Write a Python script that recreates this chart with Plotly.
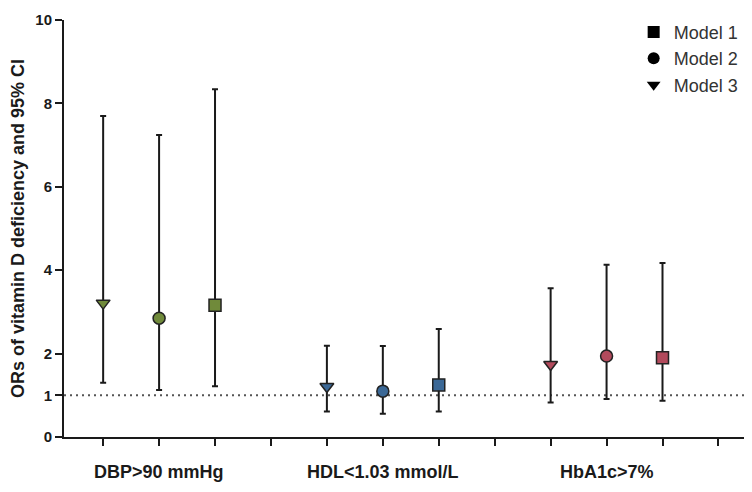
import plotly.graph_objects as go

groups = ["DBP>90 mmHg", "HDL<1.03 mmol/L", "HbA1c>7%"]
group_colors = ["#708a3a", "#3b6896", "#b24a5c"]
models = ["Model 3", "Model 2", "Model 1"]
model_symbols = ["triangle-down", "circle", "square"]

or_values = [
    [3.21, 2.85, 3.16],
    [1.21, 1.10, 1.25],
    [1.74, 1.94, 1.90],
]
ci_lower = [
    [1.30, 1.13, 1.22],
    [0.61, 0.56, 0.61],
    [0.83, 0.91, 0.87],
]
ci_upper = [
    [7.70, 7.24, 8.34],
    [2.19, 2.18, 2.59],
    [3.57, 4.13, 4.17],
]

y_ticks = [0, 1, 2, 4, 6, 8, 10]
legend_order = ["Model 1", "Model 2", "Model 3"]

fig = go.Figure()

for gi, g in enumerate(groups):
    for mi, m in enumerate(models):
        x = gi * 4 + mi + 1
        v = or_values[gi][mi]
        fig.add_trace(go.Scatter(
            x=[x], y=[v], mode="markers", showlegend=False,
            marker=dict(symbol=model_symbols[mi], size=12, color=group_colors[gi],
                        line=dict(color="#222222", width=1.5)),
            error_y=dict(type="data", symmetric=False,
                         array=[ci_upper[gi][mi] - v],
                         arrayminus=[v - ci_lower[gi][mi]],
                         color="#1a1a1a", thickness=2, width=3),
        ))

for name in legend_order:
    sym = model_symbols[models.index(name)]
    fig.add_trace(go.Scatter(
        x=[None], y=[None], mode="markers", name=name,
        marker=dict(symbol=sym, size=12, color="black"),
    ))

fig.add_shape(type="line", xref="paper", yref="y", x0=0, x1=1, y0=1, y1=1,
              line=dict(color="#555555", width=2, dash="2px,4px"), layer="below")

for gi, g in enumerate(groups):
    fig.add_annotation(x=gi * 4 + 2, y=-0.083, xref="x", yref="paper",
                       text=g, showarrow=False, yanchor="middle",
                       font=dict(family="Liberation Sans, Arial", size=18,
                                 color="#1a1a1a", weight="bold"))

fig.update_layout(
    width=744, height=484,
    margin=dict(l=56, r=0, t=12, b=55, autoexpand=False),
    plot_bgcolor="white", paper_bgcolor="white",
    font=dict(family="Liberation Sans, Arial", color="#1a1a1a"),
    legend=dict(x=0.828, y=1.015, xanchor="left", yanchor="top",
                font=dict(size=18, color="#333333"),
                itemsizing="constant", tracegroupgap=0, bgcolor="rgba(0,0,0,0)"),
    xaxis=dict(range=[0.3, 12.6], tickvals=list(range(1, 13)),
               ticktext=[""] * 12, ticks="outside", ticklen=7, tickwidth=2,
               tickcolor="#1a1a1a", showline=True, linecolor="#1a1a1a",
               linewidth=2, showgrid=False, zeroline=False, automargin=False),
    yaxis=dict(range=[0, 10], tickvals=y_ticks, ticks="outside", ticklen=7,
               tickwidth=2, tickcolor="#1a1a1a", showline=True,
               linecolor="#1a1a1a", linewidth=2, showgrid=False, zeroline=False,
               automargin=False,
               tickfont=dict(size=15, weight="bold"),
               title=dict(text="ORs of vitamin D deficiency and 95% CI",
                          font=dict(size=18, weight="bold"), standoff=8)),
)

fig.write_html("out.html")
